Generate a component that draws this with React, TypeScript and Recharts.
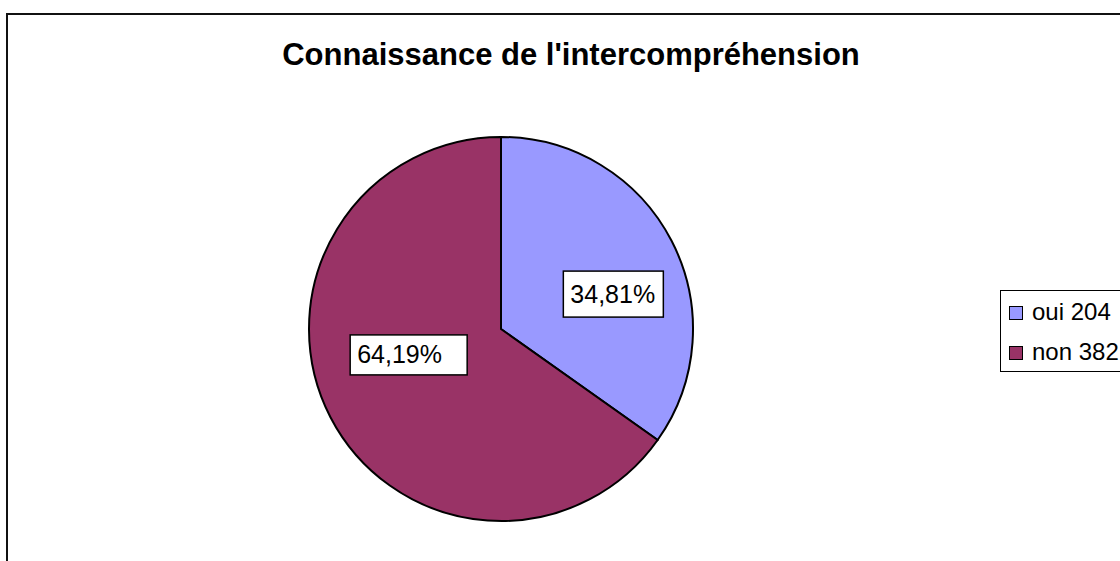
import React from "react";
import { PieChart, Pie, Cell } from "recharts";

const CATEGORIES = ["oui", "non"];
const COUNTS     = [204, 382];
const PCT_LABELS = ["34,81%", "64,19%"];
const COLORS     = ["#9999FF", "#993366"];

const FONT = "'Liberation Sans', Arial, Helvetica, sans-serif";
const RADIAN = Math.PI / 180;

// label boxes: size and nudge from the 0.6r mid-angle point
const LABEL_BOX = [
  { w: 100, h: 46, dx: 10, dy: 18 },
  { w: 117, h: 40, dx: 10, dy: -27 },
];

const data = CATEGORIES.map((c, i) => ({ name: c, value: COUNTS[i] }));

function renderLabel(props: any) {
  const { cx, cy, midAngle, outerRadius, index } = props;
  const r = outerRadius * 0.6;
  const b = LABEL_BOX[index];
  const x = cx + r * Math.cos(-midAngle * RADIAN) + b.dx;
  const y = cy + r * Math.sin(-midAngle * RADIAN) + b.dy;
  return (
    <g key={index}>
      <rect x={x - b.w / 2} y={y - b.h / 2} width={b.w} height={b.h}
        fill="#fff" stroke="#000" strokeWidth={1.5} />
      <text x={x - b.w / 2 + 7} y={y + 8.5} fontSize={25} fontFamily={FONT} fill="#000">
        {PCT_LABELS[index]}
      </text>
    </g>
  );
}

export default function App() {
  return (
    <div style={{ position: "fixed", left: 0, top: 0, width: 1120, height: 561, overflow: "hidden", background: "#fff" }}>
      {/* chart frame, runs off the right and bottom edges */}
      <div style={{ position: "absolute", left: 6, top: 13, width: 1200, height: 600, border: "2px solid #111" }} />

      <div style={{
        position: "absolute", left: 0, width: 1142, top: 37, textAlign: "center",
        fontFamily: FONT, fontWeight: "bold", fontSize: 31, lineHeight: "normal", color: "#000",
      }}>
        Connaissance de l'intercompréhension
      </div>

      <div style={{ position: "absolute", left: 0, top: 0 }}>
        <PieChart width={1120} height={561} margin={{ top: 0, right: 0, bottom: 0, left: 0 }}>
          <Pie data={data} dataKey="value" nameKey="name"
            cx={501} cy={329} outerRadius={192}
            startAngle={90} endAngle={-270}
            stroke="#000" strokeWidth={2}
            label={renderLabel} labelLine={false}
            isAnimationActive={false}>
            {data.map((_, i) => (
              <Cell key={i} fill={COLORS[i]} stroke="#000" strokeWidth={2} />
            ))}
          </Pie>
        </PieChart>
      </div>

      {/* legend */}
      <div style={{
        position: "absolute", left: 1000, top: 290, width: 140, height: 80,
        border: "1px solid #000", background: "#fff", fontFamily: FONT, fontSize: 24,
      }}>
        {CATEGORIES.map((c, i) => (
          <React.Fragment key={c}>
            <span style={{
              position: "absolute", left: 8, top: 15 + i * 40, width: 14, height: 14, boxSizing: "border-box",
              background: COLORS[i], border: "1.5px solid #000",
            }} />
            <span style={{ position: "absolute", left: 31, top: 7 + i * 40, lineHeight: "28px", whiteSpace: "nowrap" }}>
              {c} {COUNTS[i]}
            </span>
          </React.Fragment>
        ))}
      </div>
    </div>
  );
}
